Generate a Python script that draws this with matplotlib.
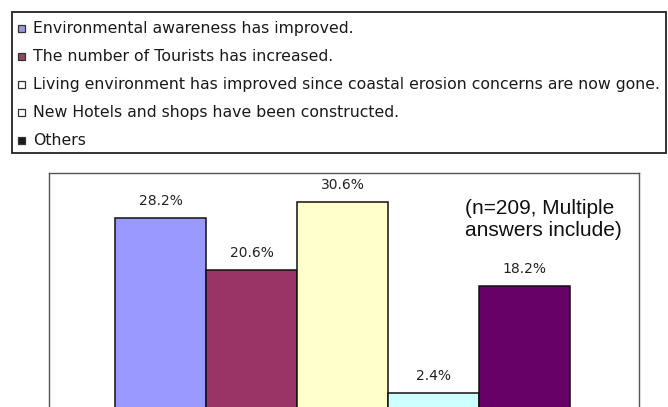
import matplotlib
matplotlib.use("Agg")
import matplotlib.pyplot as plt
from matplotlib.patches import Rectangle

# Survey answers (percent of respondents, multiple answers allowed)
categories = [
    "Environmental awareness has improved.",
    "The number of Tourists has increased.",
    "Living environment has improved since coastal erosion concerns are now gone.",
    "New Hotels and shops have been constructed.",
    "Others",
]
values = [28.2, 20.6, 30.6, 2.4, 18.2]
bar_colors = ["#9999FF", "#993366", "#FFFFCC", "#CCFFFF", "#660066"]
legend_swatch_colors = ["#9C98D8", "#8A4A64", "#FFFFFF", "#FFFFFF", "#1A1A1A"]
note_text = "(n=209, Multiple\nanswers include)"

W, H = 668, 407
fig = plt.figure(figsize=(W / 100, H / 100), dpi=100)
fig.patch.set_facecolor("white")


def fx(px):
    return px / W


def fy(py):
    return 1 - py / H


# ---- legend panel ----
fig.patches.append(Rectangle((fx(12), fy(153)), fx(666) - fx(12), fy(12) - fy(153),
                             transform=fig.transFigure, facecolor="white",
                             edgecolor="#222222", linewidth=1.3, zorder=1))

legend_font = "DejaVu Sans"
legend_size = 10.4
# scale the legend font so the longest entry spans the panel width
probe = fig.text(0, 0, categories[2], fontsize=legend_size, family=legend_font)
fig.canvas.draw()
w_px = probe.get_window_extent().width
probe.remove()
legend_size = legend_size * 624 / w_px

row_y = [28.5, 56.5, 84.5, 112.5, 140.5]
for label, sw, y in zip(categories, legend_swatch_colors, row_y):
    fig.patches.append(Rectangle((fx(18), fy(y + 3.5)), fx(7), 7 / H,
                                 transform=fig.transFigure, facecolor=sw,
                                 edgecolor="#333333", linewidth=0.9, zorder=2))
    fig.text(fx(33), fy(y), label, fontsize=legend_size, family=legend_font,
             color="#1a1a1a", ha="left", va="center")

# ---- bar chart ----
ax = fig.add_axes([fx(49), fy(409.5), fx(639) - fx(49), (409.5 - 173) / H])
x = list(range(len(values)))
bars = ax.bar(x, values, width=1.0, color=bar_colors, edgecolor="#111111",
              linewidth=1.1, zorder=3)
ax.set_xlim(-1.23, 5.26)
ax.set_ylim(0, 34.9)
ax.set_xticks([])
ax.set_yticks([])
for side in ("top", "left", "right"):
    ax.spines[side].set_color("#555555")
    ax.spines[side].set_linewidth(1.0)
ax.spines["bottom"].set_visible(False)

for rect, v in zip(bars, values):
    ax.annotate(f"{v:.1f}%", (rect.get_x() + rect.get_width() / 2, v),
                xytext=(0, 12.5), textcoords="offset points",
                ha="center", va="center", fontsize=10, family="DejaVu Sans",
                color="#222222")

fig.text(fx(465), fy(219.5), note_text, fontsize=15, family="Liberation Sans",
         ha="left", va="center", linespacing=1.15, color="#111111")

fig.savefig("out.png", dpi=100)
